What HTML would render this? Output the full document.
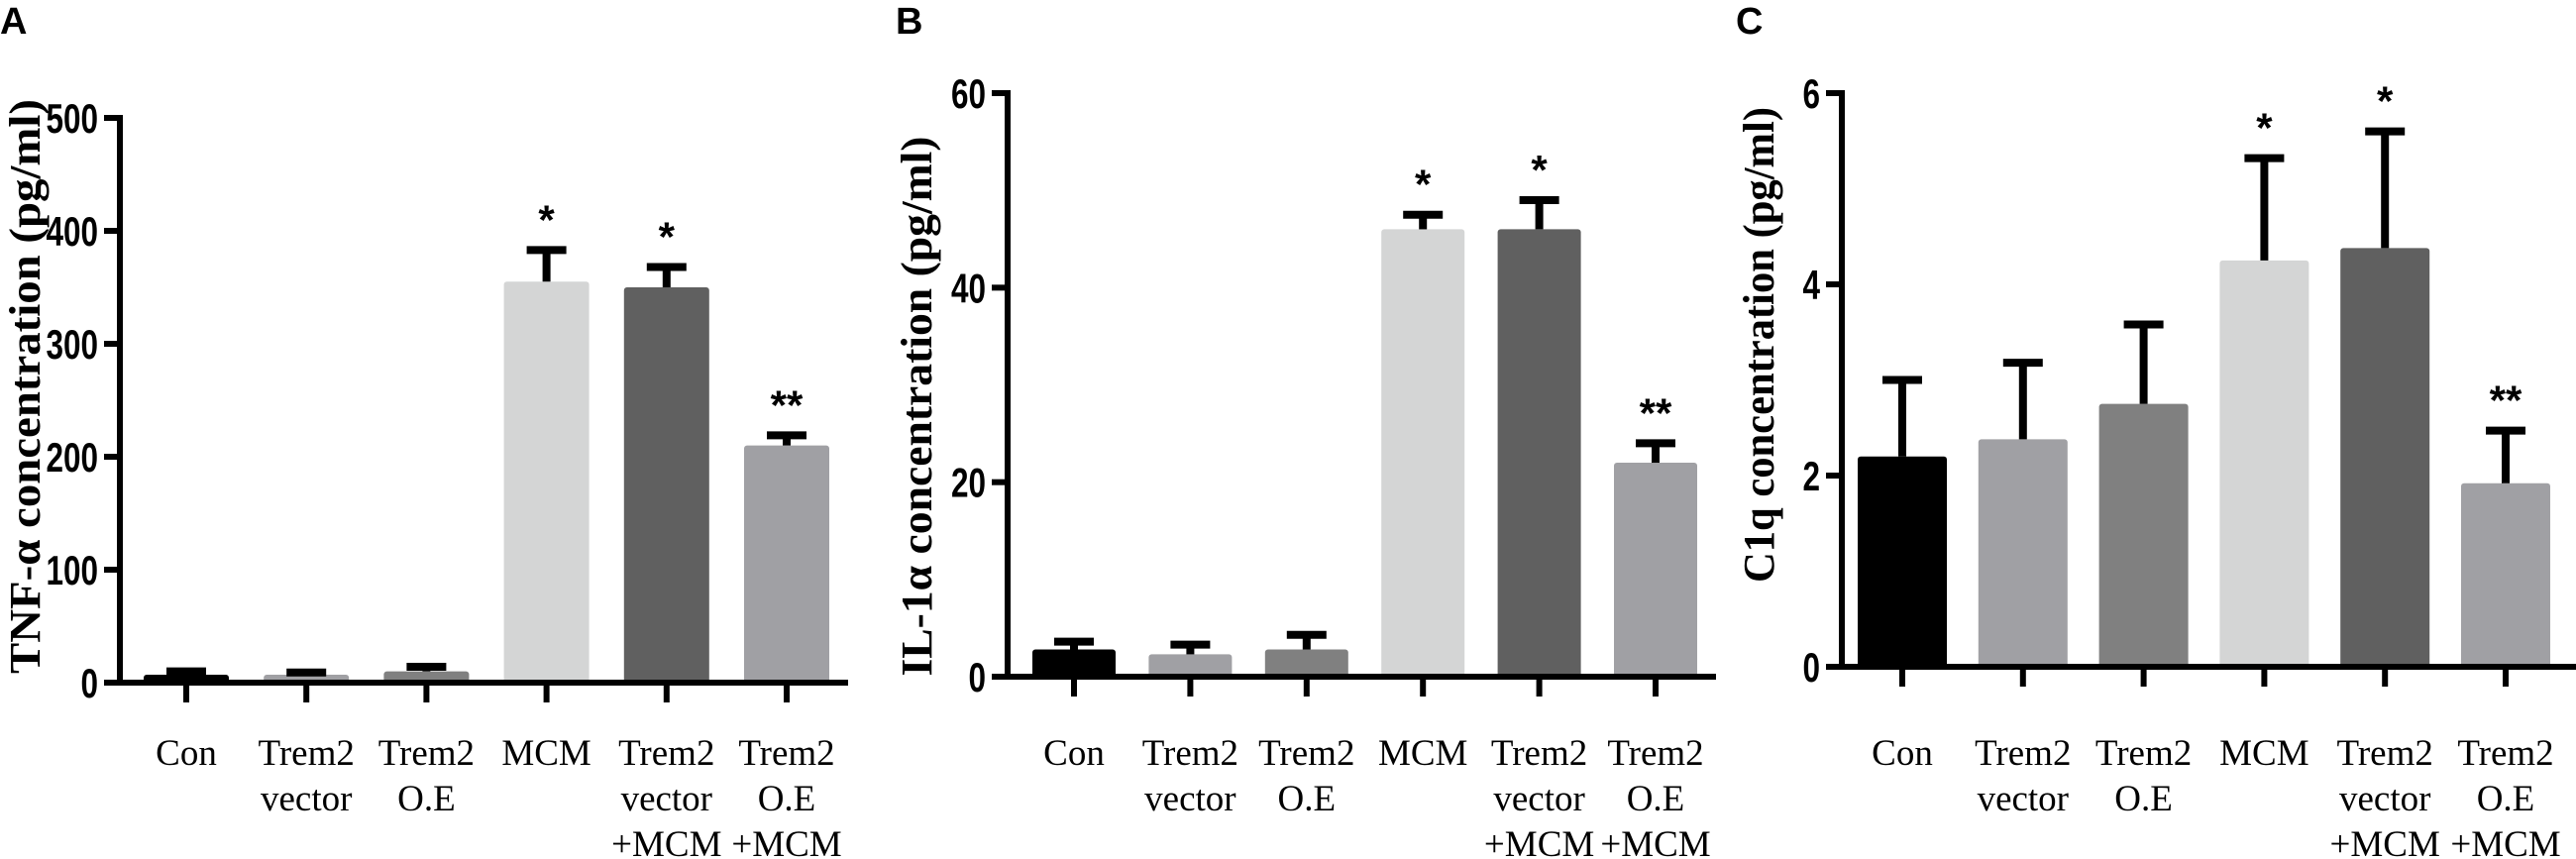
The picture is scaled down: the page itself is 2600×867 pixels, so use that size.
<!DOCTYPE html>
<html><head><meta charset="utf-8"><style>
html,body{margin:0;padding:0;background:#fff;}
svg{display:block;}
.tick{font-family:"Liberation Sans",sans-serif;font-weight:bold;font-size:42px;}
.cat{font-family:"Liberation Serif",serif;font-size:37px;}
.ttl{font-family:"Liberation Serif",serif;font-weight:bold;font-size:44px;}
.pl{font-family:"Liberation Sans",sans-serif;font-weight:bold;font-size:38px;}
.star{font-family:"Liberation Sans",sans-serif;font-weight:bold;font-size:42px;}
</style></head><body>
<svg id="fig" width="2600" height="867" viewBox="0 0 2600 867" xmlns="http://www.w3.org/2000/svg"></svg>
<script>
const categories = [["Con"],["Trem2","vector"],["Trem2","O.E"],["MCM"],["Trem2","vector","+MCM"],["Trem2","O.E","+MCM"]];
const barColors = ["#000000","#a0a0a4","#808080","#d4d5d5","#606060","#a0a0a4"];
const tnfValues = [7, 7, 10, 355, 350, 210];
const tnfErrors = [3, 2, 4, 28, 18, 9];
const tnfTicks = [0, 100, 200, 300, 400, 500];
const il1Values = [2.8, 2.3, 2.8, 46, 46, 22];
const il1Errors = [0.8, 1.0, 1.5, 1.5, 3, 2];
const il1Ticks = [0, 20, 40, 60];
const c1qValues = [2.2, 2.38, 2.75, 4.25, 4.38, 1.92];
const c1qErrors = [0.8, 0.8, 0.83, 1.07, 1.22, 0.55];
const c1qTicks = [0, 2, 4, 6];
const stars = ["", "", "", "*", "*", "**"];

const NS = "http://www.w3.org/2000/svg";
const svg = document.getElementById("fig");
function mk(tag, attrs, parent, txt){
  const e = document.createElementNS(NS, tag);
  for (const k in attrs) e.setAttribute(k, attrs[k]);
  if (txt !== undefined) e.textContent = txt;
  (parent || svg).appendChild(e);
  return e;
}

const panels = [
  {id:"a", letter:"A", lx:0, ax:121, y0:689, yTop:119, xEnd:856, x0:188, step:121.2, bw:86,
   values:tnfValues, errors:tnfErrors, ticks:tnfTicks, max:500,
   title:"TNF-\u03b1 concentration (pg/ml)", tx:40, tcy:390, tlen:580},
  {id:"b", letter:"B", lx:904, ax:1017, y0:683, yTop:94, xEnd:1732, x0:1084, step:117.4, bw:84,
   values:il1Values, errors:il1Errors, ticks:il1Ticks, max:60,
   title:"IL-1\u03b1 concentration (pg/ml)", tx:940, tcy:410, tlen:545},
  {id:"c", letter:"C", lx:1752, ax:1859, y0:673, yTop:94, xEnd:2600, x0:1920, step:121.8, bw:90,
   values:c1qValues, errors:c1qErrors, ticks:c1qTicks, max:6,
   title:"C1q concentration (pg/ml)", tx:1790, tcy:348, tlen:480}
];

panels.forEach(p => {
  const g = mk("g", {});
  
  
  const yScale = v => p.y0 - (v / p.max) * (p.y0 - p.yTop);
  const xScale = i => p.x0 + i * p.step;

  const L = mk("text", {x:p.lx, y:34, class:"pl"}, g, p.letter);
  
  

  const T = mk("text", {x:0, y:0, class:"ttl", "text-anchor":"middle",
    textLength:p.tlen, lengthAdjust:"spacingAndGlyphs",
    transform:`translate(${p.tx},${p.tcy}) rotate(-90)`}, g, p.title);
  
  

  p.values.forEach((v, i) => {
    const cx = xScale(i), top = yScale(v);
    const r = mk("rect", {x:cx - p.bw/2, y:top, width:p.bw, height:p.y0 - top, fill:barColors[i], rx:3}, g);
    
    
    const et = yScale(v + p.errors[i]);
    const eg = mk("g", {stroke:"#000", "stroke-width":8}, g);
    
    
    mk("line", {x1:cx, x2:cx, y1:top, y2:et}, eg);
    mk("line", {x1:cx - 20, x2:cx + 20, y1:et, y2:et}, eg);
    if (stars[i]) {
      const s = mk("text", {x:cx, y:et - 16, class:"star", "text-anchor":"middle"}, g, stars[i]);
      
      
    }
    mk("line", {x1:cx, x2:cx, y1:p.y0, y2:p.y0 + 20, stroke:"#000", "stroke-width":6}, g);
    const c = mk("text", {x:cx, y:772, class:"cat", "text-anchor":"middle"}, g);
    
    
    categories[i].forEach((ln, k) => {
      mk("tspan", {x:cx, dy:k === 0 ? 0 : 46}, c, ln);
    });
  });

  const ax = mk("path", {d:`M${p.ax},${p.yTop - 3} L${p.ax},${p.y0} L${p.xEnd},${p.y0}`, fill:"none", stroke:"#000", "stroke-width":6}, g);
  
  
  p.ticks.forEach(t => {
    const y = yScale(t);
    mk("line", {x1:p.ax - 16, x2:p.ax, y1:y, y2:y, stroke:"#000", "stroke-width":6}, g);
    const tl = mk("text", {x:0, y:0, class:"tick", "text-anchor":"end",
      transform:`translate(${p.ax - 22},${y + 15}) scale(0.75,1)`}, g, String(t));
    
    
  });
});
</script>
</body></html>
